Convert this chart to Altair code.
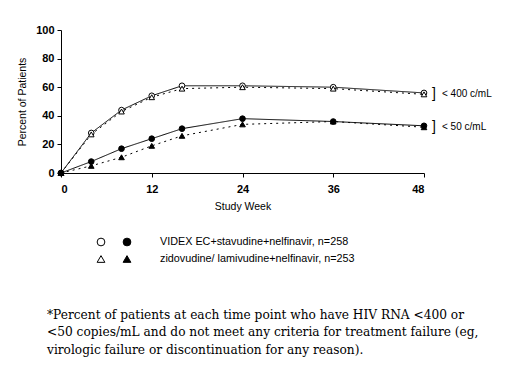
import altair as alt
import pandas as pd

weeks = [0, 4, 8, 12, 16, 24, 36, 48]
videx_400 = [0, 28, 44, 54, 61, 61, 60, 56]
zido_400 = [0, 27, 43, 53, 59, 60, 59, 55]
videx_50 = [0, 8, 17, 24, 31, 38, 36, 33]
zido_50 = [0, 5, 11, 19, 26, 34, 36, 32]

regimens = ["VIDEX EC+stavudine+nelfinavir, n=258",
            "zidovudine/ lamivudine+nelfinavir, n=253"]
thresholds = ["< 400 c/mL", "< 50 c/mL"]
x_ticks = [0, 12, 24, 36, 48]
y_ticks = [0, 20, 40, 60, 80, 100]
footnote = [
    "*Percent of patients at each time point who have HIV RNA <400 or",
    "<50 copies/mL and do not meet any criteria for treatment failure (eg,",
    "virologic failure or discontinuation for any reason).",
]

rows = []
for reg, thr, vals in [(regimens[0], thresholds[0], videx_400),
                       (regimens[1], thresholds[0], zido_400),
                       (regimens[0], thresholds[1], videx_50),
                       (regimens[1], thresholds[1], zido_50)]:
    for w, v in zip(weeks, vals):
        rows.append({"week": w, "pct": v, "regimen": reg, "threshold": thr,
                     "series": reg + thr})
df = pd.DataFrame(rows)

FONT = "Liberation Sans"

x_enc = alt.X("week:Q", scale=alt.Scale(domain=[0, 48], nice=False),
              axis=alt.Axis(values=x_ticks, title="Study Week", grid=False,
                            tickSize=4, labelFontSize=11, labelFontWeight="bold",
                            labelPadding=6, titleFontSize=10.5, titleFontWeight="normal",
                            titlePadding=7, domainColor="black", tickColor="black",
                            labelColor="black", titleColor="black", labelFont=FONT,
                            titleFont=FONT, labelOverlap=False))
y_enc = alt.Y("pct:Q", scale=alt.Scale(domain=[0, 100], nice=False),
              axis=alt.Axis(values=y_ticks, title="Percent of Patients", grid=False,
                            tickSize=4, labelFontSize=11, labelFontWeight="bold",
                            labelPadding=3, titleFontSize=10.5, titleFontWeight="normal",
                            titlePadding=8, domainColor="black", tickColor="black",
                            labelColor="black", titleColor="black", labelFont=FONT,
                            titleFont=FONT, labelOverlap=False))

dash_scale = alt.Scale(domain=regimens, range=[[1, 0], [2, 4]])
shape_scale = alt.Scale(domain=regimens, range=["circle", "triangle-up"])
fill_scale = alt.Scale(domain=thresholds, range=["white", "black"])

base = alt.Chart(df).encode(x=x_enc, y=y_enc)
lines = base.mark_line(color="black", strokeWidth=1).encode(
    detail="series:N",
    strokeDash=alt.StrokeDash("regimen:N", scale=dash_scale, legend=None))
points = base.mark_point(filled=True, stroke="black", strokeWidth=1, opacity=1,
                         size=32).encode(
    shape=alt.Shape("regimen:N", scale=shape_scale, legend=None),
    fill=alt.Fill("threshold:N", scale=fill_scale, legend=None))

ends = base.transform_filter(alt.datum.week == 48).transform_aggregate(
    pct="mean(pct)", groupby=["threshold", "week"])
brackets = ends.mark_text(align="center", baseline="middle", dx=10, fontSize=14,
                          font=FONT, color="black").encode(text=alt.value("]"))
bracket_lbl = ends.mark_text(align="left", baseline="middle", dx=18, fontSize=10,
                             font=FONT, color="black").encode(text="threshold:N")

one = pd.DataFrame({"a": [0]})
legend_layers = []
leg_y = [212, 229]
for i, reg in enumerate(regimens):
    shp = ["circle", "triangle-up"][i]
    for j, fillc in enumerate(["white", "black"]):
        legend_layers.append(
            alt.Chart(one).mark_point(shape=shp, filled=True, fill=fillc,
                                      stroke="black", strokeWidth=1, opacity=1,
                                      size=60).encode(
                x=alt.value([40, 66][j]), y=alt.value(leg_y[i])))
    legend_layers.append(
        alt.Chart(one).mark_text(align="left", baseline="middle", fontSize=10.8,
                                 font=FONT, color="black").encode(
            x=alt.value(99), y=alt.value(leg_y[i]), text=alt.value(reg)))

foot_layers = []
for k, line in enumerate(footnote):
    foot_layers.append(
        alt.Chart(one).mark_text(align="left", baseline="middle", fontSize=12.2,
                                 font="DejaVu Serif", color="black").encode(
            x=alt.value(-14), y=alt.value([285, 302, 320][k]), text=alt.value(line)))

chart = alt.layer(lines, points, brackets, bracket_lbl, *legend_layers,
                  *foot_layers).properties(
    width=363, height=143,
    autosize=alt.AutoSizeParams(type="none"),
    padding={"left": 53, "top": 22, "right": 79, "bottom": 187},
    background="white",
).configure_view(stroke=None)

chart.save("out.html", embed_options={"renderer": "svg", "actions": False})
